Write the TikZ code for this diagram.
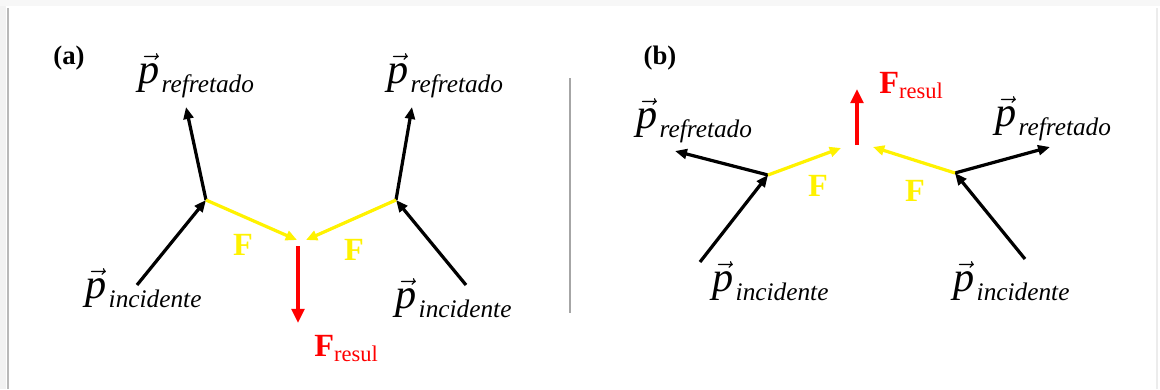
\documentclass[tikz,border=0pt]{standalone}
\usepackage{fontspec}
\setmainfont{Liberation Serif}
\usetikzlibrary{arrows.meta}

\newcommand{\pvec}[1]{{\fontsize{30}{30}\selectfont$\vec{\mbox{\itshape p}}$}\,\raisebox{-7pt}{\fontsize{18}{18}\selectfont\itshape #1}}
\newcommand{\fres}{{\fontsize{23}{23}\selectfont\bfseries F}\raisebox{-4pt}{\fontsize{16}{16}\selectfont resul}}

\tikzset{
  mom/.style={-{Triangle[length=8.5pt,width=7pt]}, line width=2.3pt, black},
  force/.style={-{Triangle[length=8pt,width=7pt]}, line width=2.3pt, yellow},
  resul/.style={-{Triangle[length=10pt,width=9pt]}, line width=2.6pt, red},
  plabel/.style={anchor=base west, inner sep=0pt},
  flabel/.style={text=yellow, font=\fontsize{23}{23}\selectfont\bfseries, inner sep=0pt},
  panel/.style={font=\fontsize{19}{19}\selectfont\bfseries, inner sep=0pt}
}

\begin{document}
\begin{tikzpicture}[x=0.025cm,y=-0.025cm]
\useasboundingbox (0,0) rectangle (1160,389);
% frame
\fill[gray!6] (0,0) rectangle (1160,6);
\fill[gray!10] (0,6) rectangle (6,389);
\draw[gray!55, line width=1.2pt] (8,8) -- (8,389);
\draw[gray!15, line width=1.2pt] (1157,8) -- (1157,389);

% (a)
\node[panel] (la) at (69,58) {(a)};

\coordinate (jLa) at (206,200);
\coordinate (jRa) at (396,200);
\coordinate (inLa) at (137,285);
\coordinate (inRa) at (466,285);
\coordinate (rfLa) at (186,107);
\coordinate (rfRa) at (412,107);
\coordinate (tipLa) at (297,240);
\coordinate (tipRa) at (306,240);
\coordinate (resa) at (298,246);
\coordinate (resTa) at (298,323);

\draw[mom] (inLa) -- (jLa);
\draw[mom] (jLa) -- (rfLa);
\draw[mom] (inRa) -- (jRa);
\draw[mom] (jRa) -- (rfRa);
\draw[force] (jLa) -- (tipLa);
\draw[force] (jRa) -- (tipRa);
\draw[resul] (resa) -- (resTa);

\node[plabel] (prLa) at (138,83) {\pvec{refretado}};
\node[plabel] (prRa) at (387,83) {\pvec{refretado}};
\node[plabel] (piLa) at (85,298) {\pvec{incidente}};
\node[plabel] (piRa) at (395,308) {\pvec{incidente}};
\node[flabel] (fLa) at (243,245) {F};
\node[flabel] (fRa) at (354,250) {F};
\node[plabel, text=red] (fra) at (314,356) {\fres};

% separator
\draw[gray!70, line width=1.3pt] (570,78) -- (570,313);

% (b)
\node[panel] (lb) at (660,58) {(b)};

\coordinate (jLb) at (768,175);
\coordinate (jRb) at (955,173);
\coordinate (inLb) at (700,262);
\coordinate (inRb) at (1025,259);
\coordinate (rfLb) at (675,151);
\coordinate (rfRb) at (1050,147);
\coordinate (tipLb) at (841,148);
\coordinate (tipRb) at (873,147);
\coordinate (resb) at (857,145);
\coordinate (resTb) at (857,89);

\draw[mom] (inLb) -- (jLb);
\draw[mom] (jLb) -- (rfLb);
\draw[mom] (inRb) -- (jRb);
\draw[mom] (jRb) -- (rfRb);
\draw[force] (jLb) -- (tipLb);
\draw[force] (jRb) -- (tipRb);
\draw[resul] (resb) -- (resTb);

\node[plabel] (prLb) at (636,128) {\pvec{refretado}};
\node[plabel] (prRb) at (995,126) {\pvec{refretado}};
\node[plabel] (piLb) at (712,291) {\pvec{incidente}};
\node[plabel] (piRb) at (953,291) {\pvec{incidente}};
\node[flabel] (fLb) at (818,186) {F};
\node[flabel] (fRb) at (915,191) {F};
\node[plabel, text=red] (frb) at (879,93) {\fres};
\end{tikzpicture}
\end{document}
